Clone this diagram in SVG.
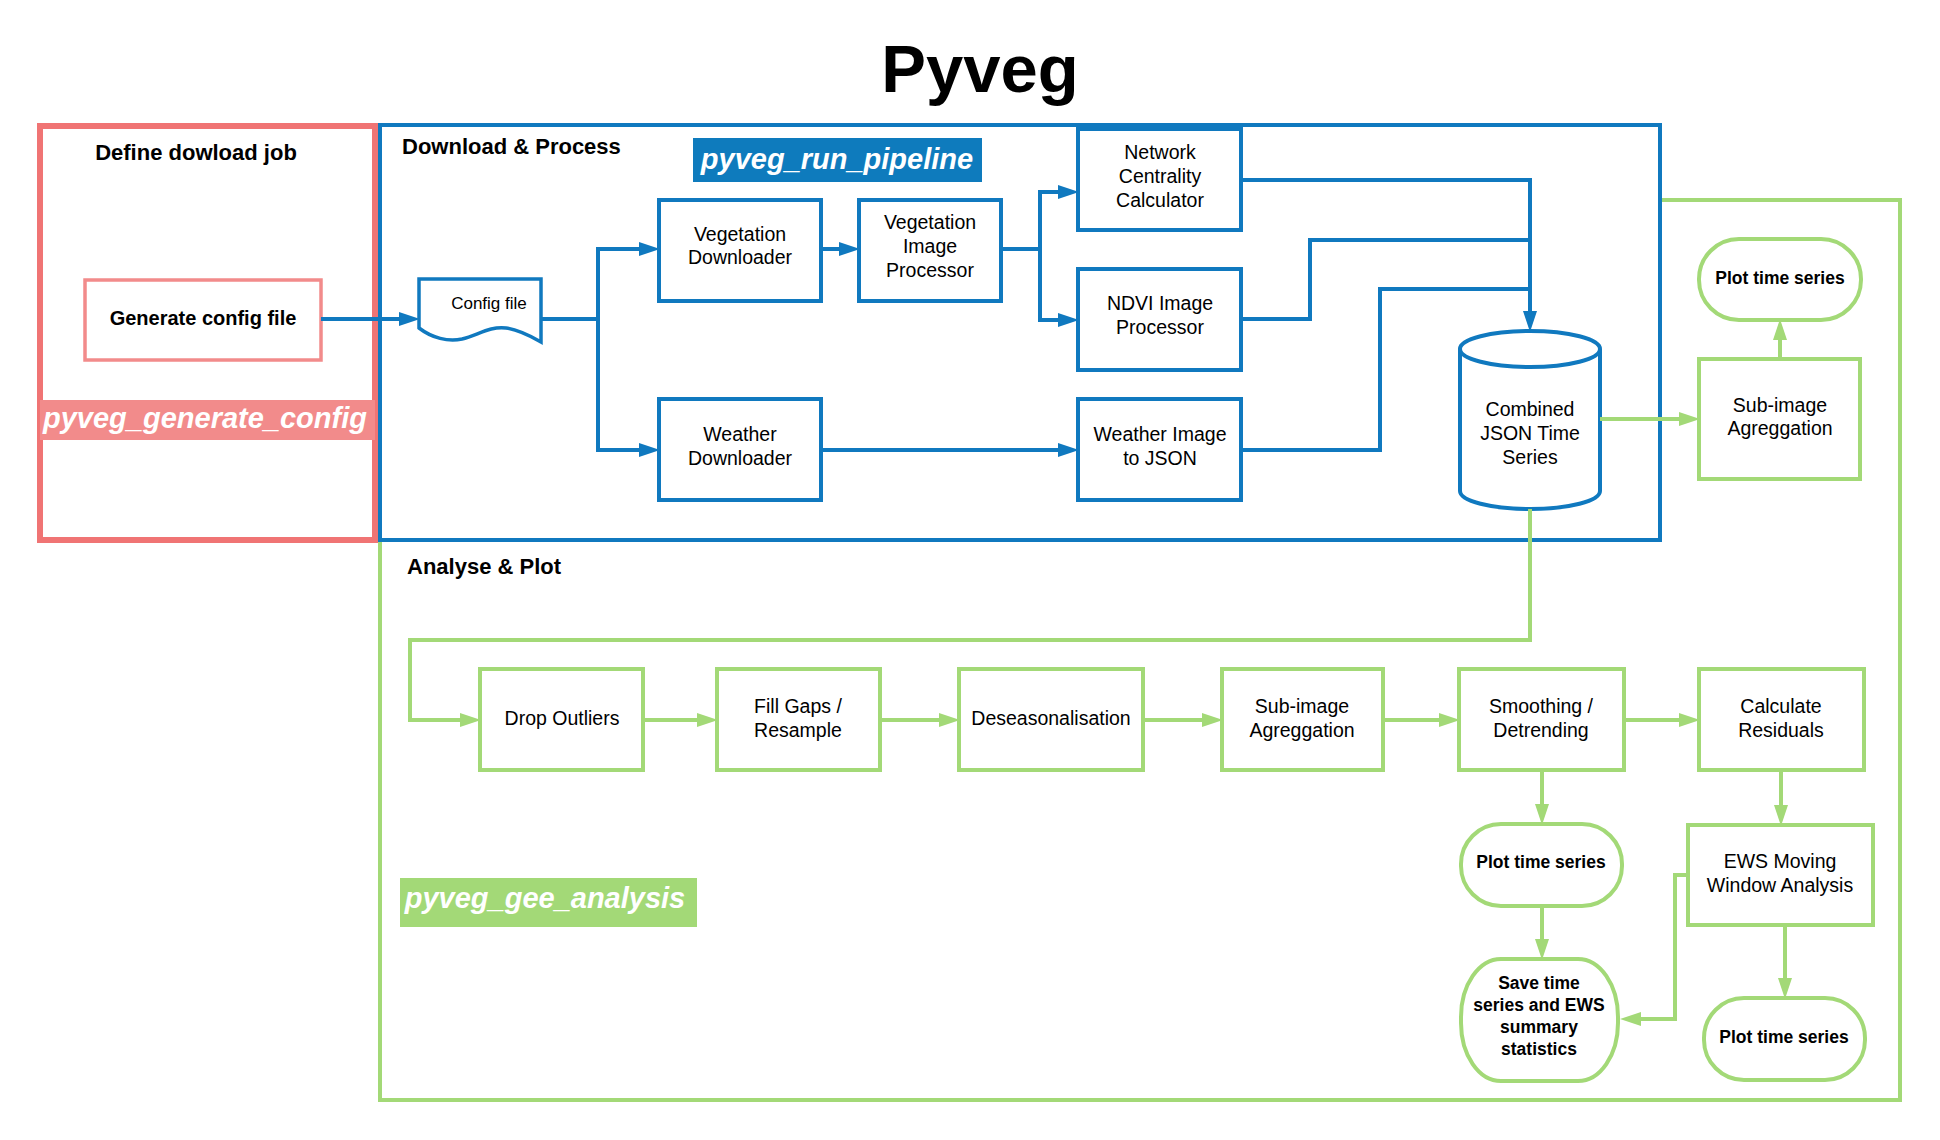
<svg xmlns="http://www.w3.org/2000/svg" width="1940" height="1140" viewBox="0 0 1940 1140">
<defs>
<marker id="ab" markerUnits="userSpaceOnUse" markerWidth="22" markerHeight="14" refX="10" refY="7" orient="auto"><path d="M0,0 L21,7 L0,14 z" fill="#1079bf"/></marker>
<marker id="ag" markerUnits="userSpaceOnUse" markerWidth="22" markerHeight="14" refX="10" refY="7" orient="auto"><path d="M0,0 L21,7 L0,14 z" fill="#a3d977"/></marker>
<style>
text{font-family:"Liberation Sans",Arial,sans-serif;fill:#000}
.t{font-size:19.5px;text-anchor:middle}
.b{font-size:17.5px;font-weight:bold;text-anchor:middle}
.h{font-size:22px;font-weight:bold}
.lab{font-size:29px;font-weight:bold;font-style:italic;fill:#fff}
.bn{fill:#fff;stroke:#1079bf;stroke-width:4}
.gn{fill:#fff;stroke:#a3d977;stroke-width:4}
.bc{fill:none;stroke:#1079bf;stroke-width:4;marker-end:url(#ab)}
.gc{fill:none;stroke:#a3d977;stroke-width:4;marker-end:url(#ag)}
</style>
</defs>
<rect width="1940" height="1140" fill="#fff"/>
<text x="980" y="92" style="font-size:67px;font-weight:bold;text-anchor:middle">Pyveg</text>

<g id="analyse-plot">
<rect x="380" y="200" width="1520" height="900" fill="#fff" stroke="#a3d977" stroke-width="4"/>
</g>
<g id="define-download-job">
<rect x="40" y="126" width="335" height="414" fill="#fff" stroke="#f07474" stroke-width="6"/>
<text class="h" x="196" y="160" text-anchor="middle">Define dowload job</text>
<rect x="40" y="400" width="335" height="40" fill="#f28b8b"/>
<text class="lab" x="205" y="428" text-anchor="middle">pyveg_generate_config</text>
</g>
<g id="download-process">
<rect x="380" y="125" width="1280" height="415" fill="#fff" stroke="#1079bf" stroke-width="4"/>
<text class="h" x="402" y="154">Download &amp; Process</text>
<rect x="693" y="138" width="289" height="44" fill="#0e7bbd"/>
<text class="lab" x="837" y="169" text-anchor="middle">pyveg_run_pipeline</text>
</g>
<g id="analyse-plot-labels">
<text class="h" x="407" y="574">Analyse &amp; Plot</text>
<rect x="400" y="878" width="297" height="49" fill="#a3d977"/>
<text class="lab" x="545" y="908" text-anchor="middle">pyveg_gee_analysis</text>
</g>

<g id="generate-config-file">
<rect x="85" y="280" width="236" height="80" fill="#fff" stroke="#f28b8b" stroke-width="3.5"/>
<text x="203" y="325" style="font-size:20px;font-weight:bold;text-anchor:middle">Generate config file</text>
</g>
<g id="config-file">
<path d="M419,328 V279 H541 V342 C532,337 520,330 506,328 C490,326 478,335 462,339 C448,342 432,338 419,328 Z" fill="#fff" stroke="#1079bf" stroke-width="3.5"/>
<text x="489" y="309" style="font-size:17px;text-anchor:middle">Config file</text>
</g>
<g id="vegetation-downloader">
<rect class="bn" x="659" y="200" width="162" height="101"/>
<text class="t" x="740" y="241">Vegetation</text>
<text class="t" x="740" y="264">Downloader</text>
</g>
<g id="vegetation-image-processor">
<rect class="bn" x="859" y="200" width="142" height="101"/>
<text class="t" x="930" y="229">Vegetation</text>
<text class="t" x="930" y="253">Image</text>
<text class="t" x="930" y="277">Processor</text>
</g>
<g id="weather-downloader">
<rect class="bn" x="659" y="399" width="162" height="101"/>
<text class="t" x="740" y="441">Weather</text>
<text class="t" x="740" y="465">Downloader</text>
</g>
<g id="network-centrality-calculator">
<rect class="bn" x="1078" y="129" width="163" height="101"/>
<text class="t" x="1160" y="159">Network</text>
<text class="t" x="1160" y="183">Centrality</text>
<text class="t" x="1160" y="207">Calculator</text>
</g>
<g id="ndvi-image-processor">
<rect class="bn" x="1078" y="269" width="163" height="101"/>
<text class="t" x="1160" y="310">NDVI Image</text>
<text class="t" x="1160" y="334">Processor</text>
</g>
<g id="weather-image-to-json">
<rect class="bn" x="1078" y="399" width="163" height="101"/>
<text class="t" x="1160" y="441">Weather Image</text>
<text class="t" x="1160" y="465">to JSON</text>
</g>
<g id="combined-json-time-series">
<path class="bn" d="M1460,349 A70,18 0 0 1 1600,349 V491 A70,18 0 0 1 1460,491 Z"/>
<path d="M1460,349 A70,18 0 0 0 1600,349" fill="none" stroke="#1079bf" stroke-width="4"/>
<text class="t" x="1530" y="416">Combined</text>
<text class="t" x="1530" y="440">JSON Time</text>
<text class="t" x="1530" y="464">Series</text>
</g>
<g id="sub-image-aggregation-1">
<rect class="gn" x="1699" y="359" width="161" height="120"/>
<text class="t" x="1780" y="412">Sub-image</text>
<text class="t" x="1780" y="435">Agreggation</text>
</g>
<g id="plot-time-series-1">
<rect class="gn" x="1699" y="239" width="162" height="81" rx="40" ry="40"/>
<text class="b" x="1780" y="284">Plot time series</text>
</g>
<g id="drop-outliers">
<rect class="gn" x="480" y="669" width="163" height="101"/>
<text class="t" x="562" y="725">Drop Outliers</text>
</g>
<g id="fill-gaps-resample">
<rect class="gn" x="717" y="669" width="163" height="101"/>
<text class="t" x="798" y="713">Fill Gaps /</text>
<text class="t" x="798" y="737">Resample</text>
</g>
<g id="deseasonalisation">
<rect class="gn" x="959" y="669" width="184" height="101"/>
<text class="t" x="1051" y="725">Deseasonalisation</text>
</g>
<g id="sub-image-aggregation-2">
<rect class="gn" x="1222" y="669" width="161" height="101"/>
<text class="t" x="1302" y="713">Sub-image</text>
<text class="t" x="1302" y="737">Agreggation</text>
</g>
<g id="smoothing-detrending">
<rect class="gn" x="1459" y="669" width="165" height="101"/>
<text class="t" x="1541" y="713">Smoothing /</text>
<text class="t" x="1541" y="737">Detrending</text>
</g>
<g id="calculate-residuals">
<rect class="gn" x="1699" y="669" width="165" height="101"/>
<text class="t" x="1781" y="713">Calculate</text>
<text class="t" x="1781" y="737">Residuals</text>
</g>
<g id="plot-time-series-2">
<rect class="gn" x="1461" y="824" width="161" height="82" rx="40" ry="40"/>
<text class="b" x="1541" y="868">Plot time series</text>
</g>
<g id="ews-moving-window-analysis">
<rect class="gn" x="1688" y="825" width="185" height="100"/>
<text class="t" x="1780" y="868">EWS Moving</text>
<text class="t" x="1780" y="892">Window Analysis</text>
</g>
<g id="save-time-series">
<rect class="gn" x="1461" y="959" width="157" height="122" rx="40" ry="58"/>
<text class="b" x="1539" y="989">Save time</text>
<text class="b" x="1539" y="1011">series and EWS</text>
<text class="b" x="1539" y="1033">summary</text>
<text class="b" x="1539" y="1055">statistics</text>
</g>
<g id="plot-time-series-3">
<rect class="gn" x="1704" y="998" width="161" height="82" rx="40" ry="40"/>
<text class="b" x="1784" y="1043">Plot time series</text>
</g>

<g id="connectors">
<path class="bc" d="M321,319 H409"/>
<path class="bc" d="M541,319 H598 V249 H649"/>
<path class="bc" d="M541,319 H598 V450 H649"/>
<path class="bc" d="M821,249 H849"/>
<path class="bc" d="M1001,249 H1040 V192 H1068"/>
<path class="bc" d="M1040,249 V320 H1068"/>
<path class="bc" d="M821,450 H1068"/>
<path class="bc" d="M1241,180 H1530 V321"/>
<path fill="none" stroke="#1079bf" stroke-width="4" d="M1241,319 H1310 V240 H1530"/>
<path fill="none" stroke="#1079bf" stroke-width="4" d="M1241,450 H1380 V289 H1530"/>
<path class="gc" d="M1600,419 H1689"/>
<path class="gc" d="M1780,359 V330"/>
<path class="gc" d="M1530,509 V640 H410 V720 H470"/>
<path class="gc" d="M643,720 H707"/>
<path class="gc" d="M880,720 H949"/>
<path class="gc" d="M1143,720 H1212"/>
<path class="gc" d="M1383,720 H1449"/>
<path class="gc" d="M1624,720 H1689"/>
<path class="gc" d="M1542,771 V814"/>
<path class="gc" d="M1542,906 V949"/>
<path class="gc" d="M1781,771 V815"/>
<path class="gc" d="M1688,875 H1675 V1019 H1631"/>
<path class="gc" d="M1785,925 V988"/>
</g>
</svg>
